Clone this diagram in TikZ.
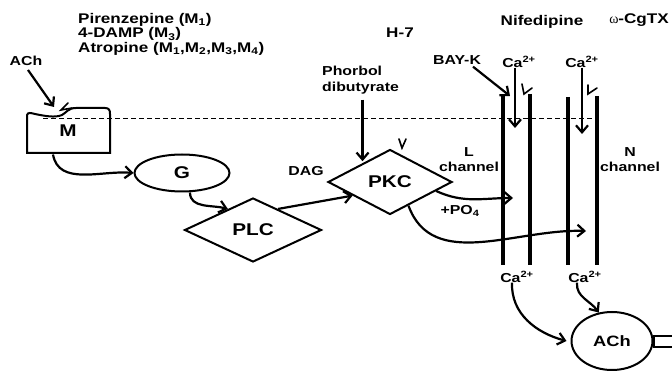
\documentclass[tikz,border=0pt]{standalone}
\usepackage{fontspec}
\newfontfamily\figfont[FakeStretch=1.22]{Liberation Sans Bold}
\newfontfamily\greekfont{Liberation Serif}
\usetikzlibrary{arrows.meta,shapes.geometric,positioning,calc}

\begin{document}
\begin{tikzpicture}[x=1pt,y=-1pt,
  txt/.style={font=\figfont\fontsize{13}{12}\selectfont,inner sep=0pt},
  top/.style={font=\figfont\fontsize{14}{14.5}\selectfont,inner sep=0pt},
  big/.style={draw,line width=2pt,inner sep=0pt,
              font=\figfont\fontsize{17}{20}\selectfont},
  arr/.style={line width=2.2pt,-{Straight Barb[length=7pt,width=12pt]}},
  blocker/.style={line width=1.6pt,line cap=round},
  wall/.style={line width=3.6pt},
  membrane/.style={line width=0.8pt,dash pattern=on 5pt off 3pt}
]
\useasboundingbox (0,0) rectangle (672,371);

% Antagonists and agonists
\node[top,align=left,anchor=north west] (antag) at (78,13)
  {Pirenzepine (M\textsubscript{1})\\4-DAMP (M\textsubscript{3})\\
   Atropine (M\textsubscript{1},M\textsubscript{2},M\textsubscript{3},M\textsubscript{4})};
\node[txt] (ach) at (26,61) {ACh};
\node[top] (h7) at (400,33) {H-7};
\node[txt,align=left,anchor=north west,
      font=\figfont\fontsize{13}{16}\selectfont] (phorbol) at (322,66)
  {Phorbol\\dibutyrate};
\node[top] (nif) at (542,22) {Nifedipine};
\node[top] (cgtx) at (639,20) {{\greekfont ω}-CgTX};
\node[txt] (bayk) at (457,60) {BAY-K};
\node[txt] (ca1t) at (519,62) {Ca\textsuperscript{2+}};
\node[txt] (ca2t) at (582,62) {Ca\textsuperscript{2+}};

% Receptor and cascade
\node[big,draw=none,minimum width=83pt,minimum height=45pt] (M) at (68,131) {M};
\draw[line width=2pt] (27,153) -- (27,115) .. controls (28,112) and (31,113) .. (35,114)
  .. controls (45,116) and (55,118) .. (62,115) .. controls (66,113) and (68,108) .. (76,108)
  -- (105,108) .. controls (109,108) and (110,110) .. (110,114) -- (110,153) -- cycle;
\node[big,ellipse,minimum width=95pt,minimum height=37pt] (G) at (182,173) {G};
\node[big,diamond,minimum width=137pt,minimum height=64pt] (PLC) at (253,230) {PLC};
\node[big,diamond,minimum width=124pt,minimum height=65pt] (PKC) at (390,182) {PKC};
\node[txt] (dag) at (306,171) {DAG};
\node[big,ellipse,minimum width=81pt,minimum height=58pt,
      font=\figfont\fontsize{15}{18}\selectfont] (AChx) at (612,341) {ACh};

% Membrane and channels
\draw[membrane] (43,118) -- (598,118);
\foreach \x/\t [count=\i] in {503/96,530/94,568/97,597/96}
{
  \coordinate (w\i) at (\x,\t);
  \draw[wall] (w\i) -- (\x,265);
}
\node[txt,align=center,font=\figfont\fontsize{13}{15}\selectfont] (lch) at (469,160) {L\\channel};
\node[txt,align=center,font=\figfont\fontsize{13}{15}\selectfont] (nch) at (630,160) {N\\channel};
\node[txt] (po4) at (460,211) {+PO\textsubscript{4}};
\node[txt] (ca1b) at (517,277) {Ca\textsuperscript{2+}};
\node[txt] (ca2b) at (585,277) {Ca\textsuperscript{2+}};

\coordinate (Mdock) at (54,107);
\coordinate (in1) at (515,128);
\coordinate (in2) at (582,134);
\coordinate (lin) at (513,198);
\coordinate (nin) at (586,231);

% Arrows
\draw[arr] ([shift={(2pt,-4pt)}]ach.south) -- (Mdock);
\draw[arr] ([xshift=-15pt]M.south) to[out=-80,in=175] (G.west);
\draw[arr] ([xshift=8pt]G.south) to[out=-90,in=165] (PLC.140);
\draw[arr] (PLC.40) -- (PKC.200);
\draw[arr] ([xshift=2pt,yshift=-5pt]phorbol.south) -- ([xshift=2pt]phorbol.south |- PKC.139);
\draw[arr] ([xshift=16pt,yshift=-2pt]bayk.south) -- ([xshift=7pt]w1);
\draw[arr] (ca1t.south -| in1) -- (in1);
\draw[arr] (ca2t.south -| in2) -- (in2);
\draw[arr] (PKC.-11) to[out=-25,in=180] (lin);
\draw[arr] (PKC.-52) to[out=-70,in=178] (nin);
\draw[arr] ([xshift=-5pt]ca1b.south) to[out=-92,in=165] ([xshift=-4pt]AChx.west);
\draw[arr] ([xshift=-8pt]ca2b.south) to[out=-95,in=125] (AChx.115);
\draw[line width=2pt] ([xshift=22pt,yshift=5.5pt]AChx.east) -| ([yshift=-5.5pt]AChx.east) -- ++(22,0);

% Blocking sites
\foreach \tx/\ty/\ax/\ay/\bx/\by in {61/110/68/103/72/108, 402/148/399/139/406/139,
                                     524/94/522/84/532/88, 588/94/588/85/597/88}
  \draw[blocker] (\ax,\ay) -- (\tx,\ty) -- (\bx,\by);
\end{tikzpicture}
\end{document}
